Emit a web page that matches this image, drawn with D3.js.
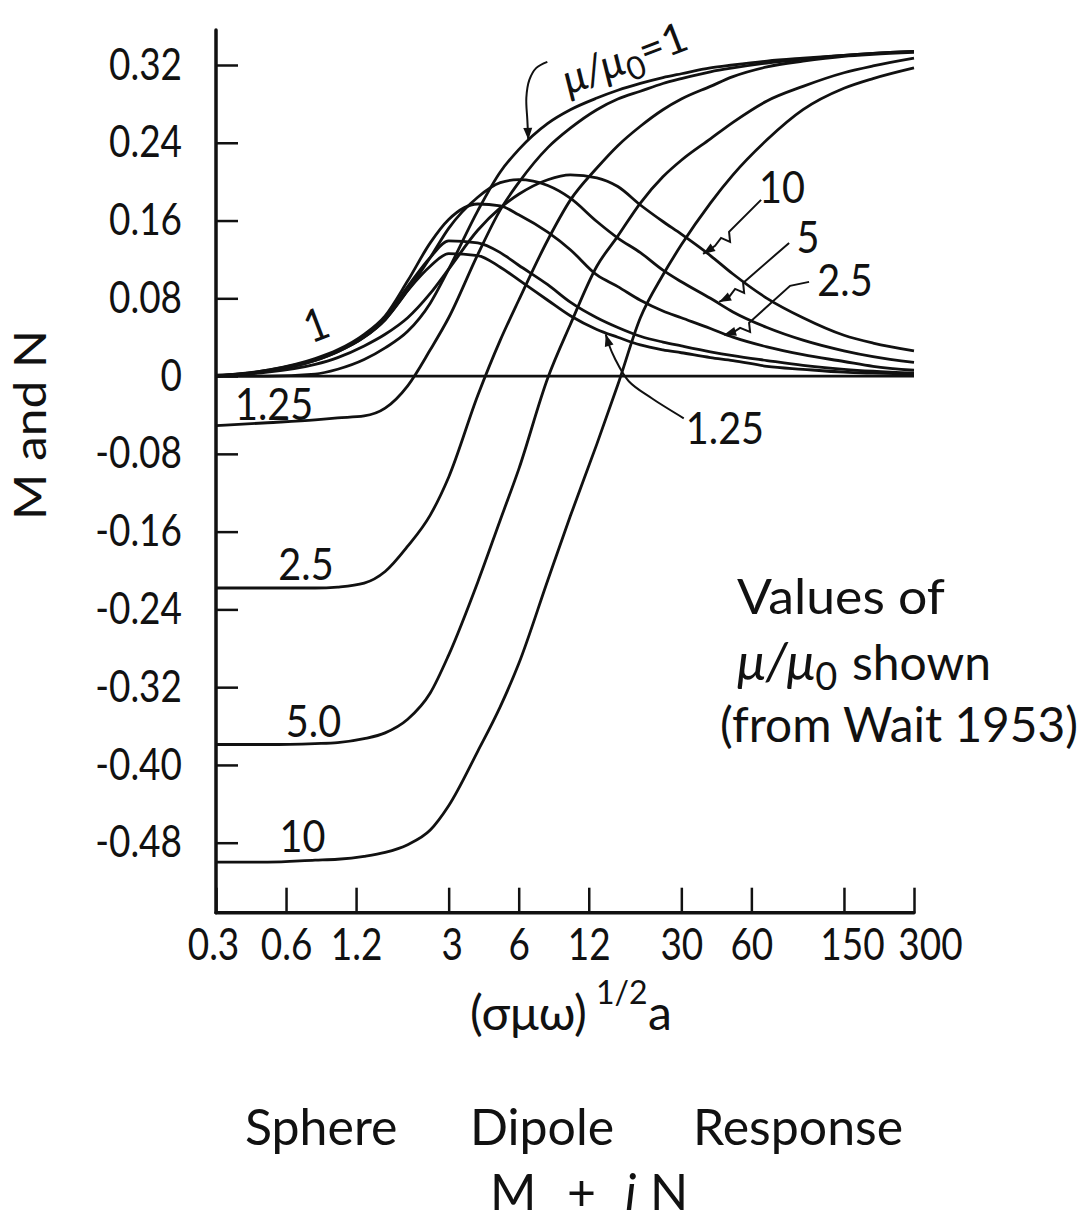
<!DOCTYPE html>
<html>
<head>
<meta charset="utf-8">
<script src="https://cdn.jsdelivr.net/npm/d3@7"></script>
<style>
  body { margin: 0; background: #fff; }
  svg { display: block; }
  text { font-family: Lato, "DejaVu Sans", sans-serif; fill: #111; }
</style>
</head>
<body>
<div id="chart"></div>
<script>
// (sigma mu omega)^1/2 a, sampled along every curve
const xValues = [0.3, 0.5, 0.8, 1, 1.3, 1.6, 2, 2.5, 3, 4, 5, 6, 8, 10, 13, 16, 20, 25, 30, 40, 50, 70, 100, 150, 200, 300];

// in-phase part M, one list per mu/mu0
const m1   = [0, 0, 0.002, 0.007, 0.017, 0.029, 0.046, 0.075, 0.110, 0.170, 0.210, 0.233, 0.260, 0.274, 0.286, 0.294, 0.301, 0.307, 0.311, 0.317, 0.320, 0.324, 0.327, 0.330, 0.332, 0.334];
const m125 = [-0.051, -0.048, -0.045, -0.043, -0.041, -0.033, -0.010, 0.027, 0.060, 0.125, 0.171, 0.199, 0.235, 0.255, 0.274, 0.285, 0.293, 0.301, 0.306, 0.313, 0.317, 0.322, 0.326, 0.330, 0.332, 0.334];
const m25  = [-0.218, -0.218, -0.218, -0.217, -0.213, -0.201, -0.175, -0.143, -0.104, -0.020, 0.037, 0.078, 0.140, 0.181, 0.214, 0.237, 0.257, 0.274, 0.285, 0.298, 0.308, 0.318, 0.324, 0.329, 0.331, 0.333];
const m5   = [-0.379, -0.379, -0.378, -0.377, -0.373, -0.367, -0.353, -0.326, -0.287, -0.212, -0.148, -0.096, -0.002, 0.053, 0.113, 0.144, 0.178, 0.205, 0.222, 0.244, 0.261, 0.283, 0.298, 0.312, 0.319, 0.327];
const m10  = [-0.500, -0.500, -0.498, -0.497, -0.494, -0.490, -0.482, -0.467, -0.442, -0.386, -0.340, -0.296, -0.210, -0.144, -0.070, -0.009, 0.060, 0.104, 0.135, 0.178, 0.207, 0.243, 0.274, 0.296, 0.306, 0.317];

// quadrature part N
const n1   = [0, 0.005, 0.016, 0.025, 0.040, 0.058, 0.088, 0.113, 0.126, 0.124, 0.112, 0.099, 0.078, 0.062, 0.048, 0.040, 0.032, 0.027, 0.024, 0.019, 0.016, 0.010, 0.007, 0.004, 0.003, 0.002];
const n125 = [0, 0.006, 0.017, 0.026, 0.041, 0.060, 0.092, 0.122, 0.139, 0.137, 0.127, 0.114, 0.094, 0.076, 0.060, 0.050, 0.041, 0.035, 0.031, 0.025, 0.021, 0.016, 0.011, 0.007, 0.005, 0.003];
const n25  = [0, 0.006, 0.018, 0.027, 0.043, 0.062, 0.098, 0.137, 0.161, 0.177, 0.175, 0.166, 0.148, 0.130, 0.104, 0.092, 0.078, 0.067, 0.060, 0.049, 0.040, 0.030, 0.022, 0.015, 0.010, 0.006];
const n5   = [0, 0.005, 0.016, 0.025, 0.040, 0.058, 0.088, 0.122, 0.152, 0.184, 0.199, 0.202, 0.196, 0.183, 0.159, 0.142, 0.127, 0.109, 0.097, 0.080, 0.066, 0.050, 0.037, 0.026, 0.020, 0.014];
const n10  = [0.001, 0.004, 0.012, 0.019, 0.031, 0.043, 0.060, 0.085, 0.110, 0.150, 0.173, 0.187, 0.202, 0.207, 0.204, 0.195, 0.176, 0.159, 0.146, 0.124, 0.105, 0.080, 0.060, 0.042, 0.034, 0.026];

const xTicks = [0.3, 0.6, 1.2, 3, 6, 12, 30, 60, 150, 300];
const xTickLabels = ["0.3", "0.6", "1.2", "3", "6", "12", "30", "60", "150", "300"];
const xTickShift = [-3, 0, 0, 3, 0, 0, 0, 0, 8, 16];
const yTicks = [0.32, 0.24, 0.16, 0.08, 0, -0.08, -0.16, -0.24, -0.32, -0.40, -0.48];
const yTickLabels = ["0.32", "0.24", "0.16", "0.08", "0", "-0.08", "-0.16", "-0.24", "-0.32", "-0.40", "-0.48"];

const curves = [m1, m125, m25, m5, m10, n1, n125, n25, n5, n10];

// curve labels: text, data position, rotation
const curveLabels = [
  { t: "1.25", x: 0.533, y: -0.028 },
  { t: "2.5",  x: 0.731, y: -0.193 },
  { t: "5.0",  x: 0.787, y: -0.355 },
  { t: "10",   x: 0.706, y: -0.473 },
  { t: "1",    x: 0.807, y: 0.053, r: -21 },
  { t: "10",   x: 81.2,  y: 0.195 },
  { t: "5",    x: 105,   y: 0.143 },
  { t: "2.5",  x: 151.5, y: 0.099 },
  { t: "1.25", x: 46.2,  y: -0.053 }
];

// leaders: arrow tip on a curve (data) + path offsets in px from the tip
const leaders = [
  { tip: [37.2, 0.1257], pts: [[58, -54], [26, -22], [27, -12], [18, -16], [12, -8], [0, 0]], curve: "lin" },
  { tip: [43.6, 0.0763], pts: [[70, -59], [24, -19], [25, -9], [16, -13], [10, -5], [0, 0]], curve: "lin" },
  { tip: [45.8, 0.0424], pts: [[85, -53], [66, -49], [25, -12], [26, -3], [16, -7], [10, -3], [0, 0]], curve: "lin" },
  { tip: [14.2, 0.0430], pts: [[78, 84], [46, 64], [23, 47], [9, 24], [3, 10], [0, 0]], curve: "smooth" },
  { tip: [6.6, 0.243], pts: [[19, -78], [8, -72], [1, -60], [-2, -42], [-1, -20], [0, 0]], curve: "smooth" }
];

const W = 1084, H = 1221;
const yTop = 0.356, yBottom = -0.552;

const x = d3.scaleLog().domain([0.3, 300]).range([216, 914]);
const y = d3.scaleLinear().domain([yBottom, yTop]).range([912.7, 30]);

const svg = d3.select("#chart").append("svg")
  .attr("width", W).attr("height", H)
  .attr("viewBox", `0 0 ${W} ${H}`);

const ink = "#111";

// axes
const gy = svg.append("g")
  .attr("transform", `translate(${x(0.3)},0)`)
  .call(d3.axisLeft(y).tickValues(yTicks).tickFormat((d, i) => yTickLabels[i])
    .tickSize(-22).tickPadding(34));
gy.select(".domain").remove();
gy.selectAll(".tick line").attr("stroke", ink).attr("stroke-width", 2.5);
gy.selectAll(".tick text")
  .attr("font-family", "Lato, 'DejaVu Sans', sans-serif")
  .attr("font-size", 44)
  .attr("fill", ink)
  .each(function () {
    const w = this.getComputedTextLength();
    d3.select(this).attr("textLength", w * 0.84).attr("lengthAdjust", "spacingAndGlyphs");
  });

const gx = svg.append("g")
  .attr("transform", `translate(0,${y(yBottom)})`)
  .call(d3.axisBottom(x).tickValues(xTicks).tickFormat((d, i) => xTickLabels[i])
    .tickSize(-25).tickPadding(16));
gx.select(".domain").remove();
gx.selectAll(".tick line").attr("stroke", ink).attr("stroke-width", 2.5);
gx.selectAll(".tick text")
  .attr("font-family", "Lato, 'DejaVu Sans', sans-serif")
  .attr("font-size", 44)
  .attr("fill", ink)
  .attr("dx", (d, i) => xTickShift[i])
  .each(function () {
    const w = this.getComputedTextLength();
    d3.select(this).attr("textLength", w * 0.84).attr("lengthAdjust", "spacingAndGlyphs");
  });

svg.append("line")
  .attr("x1", x(0.3)).attr("x2", x(0.3))
  .attr("y1", y(yTop)).attr("y2", y(yBottom))
  .attr("stroke", ink).attr("stroke-width", 3.5).attr("stroke-linecap", "round");
svg.append("line")
  .attr("x1", x(0.3)).attr("x2", x(300))
  .attr("y1", y(yBottom)).attr("y2", y(yBottom))
  .attr("stroke", ink).attr("stroke-width", 3.5).attr("stroke-linecap", "round");
svg.append("line")
  .attr("x1", x(0.3)).attr("x2", x(300))
  .attr("y1", y(0)).attr("y2", y(0))
  .attr("stroke", ink).attr("stroke-width", 2.6);

// curves
const line = d3.line()
  .x(d => x(d[0]))
  .y(d => y(d[1]))
  .curve(d3.curveMonotoneX);

svg.append("g").selectAll("path")
  .data(curves)
  .join("path")
  .attr("d", vals => line(xValues.map((xv, i) => [xv, vals[i]])))
  .attr("fill", "none")
  .attr("stroke", ink)
  .attr("stroke-width", 2.8)
  .attr("stroke-linejoin", "round");

// curve labels
svg.append("g").selectAll("text")
  .data(curveLabels)
  .join("text")
  .attr("transform", d => `translate(${x(d.x)},${y(d.y)}) rotate(${d.r || 0})`)
  .attr("text-anchor", "middle")
  .attr("dy", "0.36em")
  .attr("font-size", 45)
  .text(d => d.t)
  .each(function () {
    const w = this.getComputedTextLength();
    d3.select(this).attr("textLength", w * 0.88).attr("lengthAdjust", "spacingAndGlyphs");
  });

// leaders with arrow heads
const lin = d3.line();
const smooth = d3.line().curve(d3.curveCatmullRom);
function arrowHead(tx, ty, fx, fy) {
  const a = Math.atan2(ty - fy, tx - fx);
  const len = 12, half = 4.5;
  const bx = tx - len * Math.cos(a), by = ty - len * Math.sin(a);
  const px = -Math.sin(a) * half, py = Math.cos(a) * half;
  return `M${tx},${ty}L${bx + px},${by + py}L${bx - px},${by - py}Z`;
}
leaders.forEach(l => {
  const tx = x(l.tip[0]), ty = y(l.tip[1]);
  const pts = l.pts.map(p => [tx + p[0], ty + p[1]]);
  svg.append("path")
    .attr("d", (l.curve === "lin" ? lin : smooth)(pts))
    .attr("fill", "none").attr("stroke", ink).attr("stroke-width", 2);
  const prev = pts[pts.length - 2];
  svg.append("path")
    .attr("d", arrowHead(tx, ty, prev[0], prev[1]))
    .attr("fill", ink);
});

// mu/mu0 = 1 label, slanted
const muLbl = svg.append("text")
  .attr("transform", `translate(${x(18)},${y(0.313)}) rotate(-21)`)
  .attr("text-anchor", "middle")
  .attr("font-size", 42);
muLbl.append("tspan").attr("font-style", "italic").text("\u03bc/\u03bc");
muLbl.append("tspan").attr("dy", 10).attr("font-size", 32).text("0");
muLbl.append("tspan").attr("dy", -10).text("=1");

// right-hand note
svg.append("text").attr("x", 737).attr("y", 614).attr("font-size", 48)
  .attr("textLength", 208).attr("lengthAdjust", "spacingAndGlyphs").text("Values of");
const note2 = svg.append("text").attr("x", 737).attr("y", 680).attr("font-size", 48);
note2.append("tspan").attr("font-style", "italic").attr("font-size", 52).text("\u03bc/\u03bc");
note2.append("tspan").attr("dy", 10).attr("font-size", 38).text("0");
note2.append("tspan").attr("dy", -10).attr("x", 852).text("shown");
svg.append("text").attr("x", 720).attr("y", 742).attr("font-size", 48)
  .attr("textLength", 358).attr("lengthAdjust", "spacingAndGlyphs").text("(from Wait 1953)");

// axis titles
svg.append("text")
  .attr("transform", "translate(46,425) rotate(-90)")
  .attr("text-anchor", "middle")
  .attr("font-size", 44)
  .attr("textLength", 190).attr("lengthAdjust", "spacingAndGlyphs")
  .text("M and N");

const xt = svg.append("text").attr("x", 470).attr("y", 1030).attr("font-size", 48);
xt.append("tspan").text("(\u03c3\u03bc\u03c9)");
xt.append("tspan").attr("x", 596).attr("dy", -26).attr("font-size", 32).text("1/2");
xt.append("tspan").attr("x", 648).attr("dy", 26).text("a");

// caption
svg.append("text").attr("x", 245).attr("y", 1145).attr("font-size", 50).text("Sphere");
svg.append("text").attr("x", 470).attr("y", 1145).attr("font-size", 50).text("Dipole");
svg.append("text").attr("x", 693).attr("y", 1145).attr("font-size", 50).text("Response");
const cap2 = svg.append("text").attr("y", 1210).attr("font-size", 50);
cap2.append("tspan").attr("x", 490).text("M");
cap2.append("tspan").attr("x", 567).text("+");
cap2.append("tspan").attr("x", 625).attr("font-style", "italic").text("i");
cap2.append("tspan").attr("x", 650).text("N");
</script>
</body>
</html>
